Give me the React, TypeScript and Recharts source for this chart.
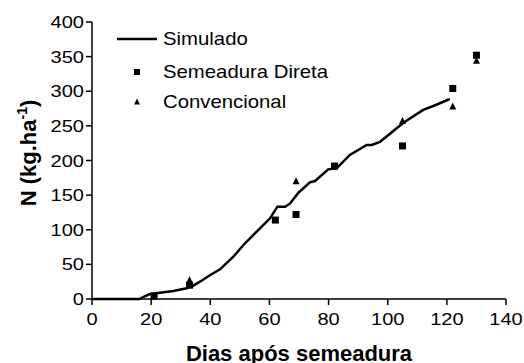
import React from 'react'
import { ComposedChart, Line, Scatter, XAxis, YAxis, Label } from 'recharts'

// simulated N uptake
const simDays = [0, 16, 18, 19.6, 23, 27.5, 32, 33.7, 36.5, 40, 43.3, 47.8, 51.2, 56.8, 60.2, 62.7, 65.3, 67, 69.8, 73.7, 75.4, 79.9, 82.7, 87.2, 92.9, 94.6, 97.4, 101.9, 105.3, 112, 115.4, 121]
const simN = [0, 0, 4.3, 7.2, 9.1, 11.5, 15.4, 17.8, 25, 34.7, 42.8, 61, 78, 102, 116.5, 133.3, 133.3, 138, 153.5, 168.4, 170.4, 187.2, 188.7, 208, 222.4, 222.4, 227, 242.6, 254.6, 273, 278.7, 288.8]

// observed
const sdDays = [21, 33, 62, 69, 82, 105, 122, 130]
const sdN = [4, 20, 114, 122, 192, 221, 304, 352]
const convDays = [33, 69, 105, 122, 130]
const convN = [27, 170, 257, 278, 344]

const xTicks = [0, 20, 40, 60, 80, 100, 120, 140]
const yTicks = [0, 50, 100, 150, 200, 250, 300, 350, 400]

const simData = simDays.map((x, i) => ({ x, y: simN[i] }))
const sdData = sdDays.map((x, i) => ({ x, y: sdN[i] }))
const convData = convDays.map((x, i) => ({ x, y: convN[i] }))

const FONT = '"Liberation Sans", Arial, sans-serif'

// the original's lettering is a little wider than plain Arial
const XTick = ({ x, y, payload }: any) => (
  <text transform={`translate(${x},${y}) scale(1.18,1)`} textAnchor="middle" dy="0.71em" fontSize={17} fontFamily={FONT} fill="#000">
    {payload.value}
  </text>
)
const YTick = ({ x, y, payload }: any) => (
  <text transform={`translate(${x},${y}) scale(1.18,1)`} textAnchor="end" dy="0.355em" fontSize={17} fontFamily={FONT} fill="#000">
    {payload.value}
  </text>
)

const SquareDot = ({ cx, cy }: any) => <rect x={cx - 3.5} y={cy - 3.5} width={7} height={7} fill="#000" />
const TriangleDot = ({ cx, cy }: any) => <polygon points={`${cx},${cy - 4} ${cx + 3.5},${cy + 3} ${cx - 3.5},${cy + 3}`} fill="#000" />

function LegendBox() {
  const row = (top: number, icon: React.ReactNode, text: string) => (
    <div style={{ position: 'absolute', top, left: 0, height: 30, display: 'flex', alignItems: 'center', whiteSpace: 'nowrap' }}>
      <svg width={40} height={30}>{icon}</svg>
      <span style={{ marginLeft: 6, fontSize: 19, fontFamily: FONT, color: '#000', display: 'inline-block', transform: 'scaleX(1.07)', transformOrigin: 'left center' }}>{text}</span>
    </div>
  )
  return (
    <div style={{ position: 'absolute', top: 24, left: 117, width: 240, height: 100 }}>
      {row(0, <line x1={0} y1={15} x2={40} y2={15} stroke="#000" strokeWidth={2.5} />, 'Simulado')}
      {row(33, <rect x={17} y={12} width={6} height={6} fill="#000" />, 'Semeadura Direta')}
      {row(63, <polygon points="20,11.5 23,17.5 17,17.5" fill="#000" />, 'Convencional')}
    </div>
  )
}

export default function App() {
  return (
    <div style={{ position: 'absolute', left: 0, top: 0, width: 524, height: 363, background: '#fff' }}>
      <ComposedChart width={524} height={363} margin={{ top: 22, right: 18, bottom: 0, left: 0 }}>
        <XAxis
          type="number"
          dataKey="x"
          domain={[0, 140]}
          ticks={xTicks}
          allowDataOverflow
          height={64}
          tick={<XTick />}
          tickSize={6}
          tickMargin={8}
          axisLine={{ stroke: '#000', strokeWidth: 1.5 }}
          tickLine={{ stroke: '#000', strokeWidth: 1.5 }}
        >
          <Label
            content={() => (
              <text x={299} y={361} textAnchor="middle" fontSize={22} fontWeight="bold" fontFamily={FONT} fill="#000">
                Dias após semeadura
              </text>
            )}
          />
        </XAxis>
        <YAxis
          type="number"
          dataKey="y"
          domain={[0, 400]}
          ticks={yTicks}
          width={92}
          tick={<YTick />}
          tickSize={6}
          tickMargin={2}
          axisLine={{ stroke: '#000', strokeWidth: 1.5 }}
          tickLine={{ stroke: '#000', strokeWidth: 1.5 }}
        >
          <Label
            content={() => (
              <text
                x={36}
                y={153}
                transform="rotate(-90, 36, 153)"
                textAnchor="middle"
                fontSize={22}
                fontWeight="bold"
                fontFamily={FONT}
                fill="#000"
              >
                N (kg.ha<tspan dy={-9} fontSize={14}>-1</tspan><tspan dy={9}>)</tspan>
              </text>
            )}
          />
        </YAxis>
        <Line
          data={simData}
          dataKey="y"
          type="linear"
          stroke="#000"
          strokeWidth={2.5}
          dot={false}
          activeDot={false}
          isAnimationActive={false}
          name="Simulado"
        />
        <Scatter data={sdData} dataKey="y" shape={<SquareDot />} fill="#000" isAnimationActive={false} name="Semeadura Direta" />
        <Scatter data={convData} dataKey="y" shape={<TriangleDot />} fill="#000" isAnimationActive={false} name="Convencional" />
      </ComposedChart>
      <LegendBox />
    </div>
  )
}
